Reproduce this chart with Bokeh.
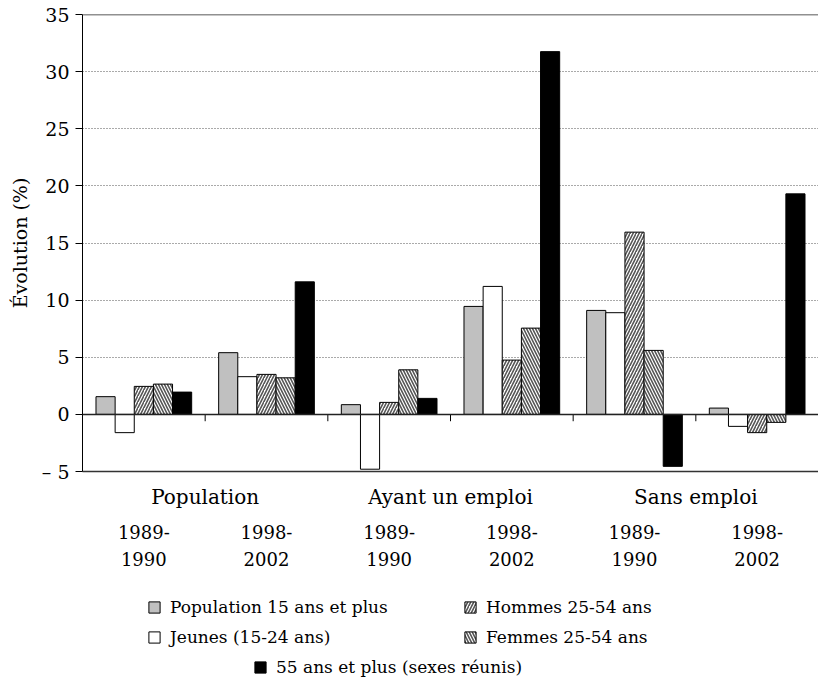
from bokeh.plotting import figure
from bokeh.layouts import column
from bokeh.models import (FactorRange, Range1d, CategoricalAxis, Legend, LegendItem,
                          Span, FixedTicker, ColumnDataSource)
from bokeh.transform import dodge
from bokeh.embed import file_html
from bokeh.resources import INLINE

# ---- data ----
categories = ["Population", "Ayant un emploi", "Sans emploi"]
periods = ["1989-\n1990", "1998-\n2002"]
series_names = ["Population 15 ans et plus", "Jeunes (15-24 ans)", "Hommes 25-54 ans",
                "Femmes 25-54 ans", "55 ans et plus (sexes réunis)"]

pop_15_plus = [1.55, 5.4, 0.85, 9.45, 9.1, 0.55]
jeunes = [-1.6, 3.3, -4.8, 11.2, 8.9, -1.05]
hommes = [2.45, 3.5, 1.05, 4.75, 15.95, -1.6]
femmes = [2.65, 3.2, 3.9, 7.55, 5.6, -0.7]
plus_55 = [1.95, 11.6, 1.4, 31.75, -4.55, 19.3]

y_ticks = [-5, 0, 5, 10, 15, 20, 25, 30, 35]
y_tick_labels = {-5: "\u2013 5"}

FONT = "DejaVu Serif"

factors = [(c, per) for c in categories for per in periods]
src = ColumnDataSource(data=dict(x=factors, pop=pop_15_plus, jeu=jeunes, hom=hommes,
                                 fem=femmes, p55=plus_55))

p = figure(x_range=FactorRange(factors=factors, factor_padding=0, group_padding=0,
                               range_padding=0),
           y_range=Range1d(-5, 35), frame_width=736, frame_height=457,
           min_border_left=82, min_border_right=0, min_border_top=14, min_border_bottom=120,
           output_backend="svg", toolbar_location=None, x_axis_location=None,
           outline_line_color=None, background_fill_color="white")

p.extra_x_ranges = {"cats": FactorRange(factors=categories, range_padding=0)}

# y axis
ya = p.yaxis[0]
ya.ticker = FixedTicker(ticks=y_ticks)
ya.major_label_overrides = y_tick_labels
ya.major_tick_out = 7
ya.major_tick_in = 0
ya.minor_tick_line_color = None
ya.axis_line_color = "black"
ya.major_tick_line_color = "black"
ya.major_label_text_font = FONT
ya.major_label_text_font_size = "19px"
ya.major_label_text_color = "black"
ya.major_label_standoff = 6
ya.axis_label = "Évolution (%)"
ya.axis_label_text_font = FONT
ya.axis_label_text_font_size = "19px"
ya.axis_label_text_font_style = "normal"
ya.axis_label_text_color = "black"
ya.axis_label_standoff = 8

p.xgrid.grid_line_color = None
p.ygrid.ticker = FixedTicker(ticks=[t for t in y_ticks if t not in (-5, 0, 35)])
p.ygrid.grid_line_color = "#555555"
p.ygrid.grid_line_dash = "1 2"
p.ygrid.grid_line_width = 1

# category axis (closest to the frame, draws the bottom line)
cat_axis = CategoricalAxis(x_range_name="cats")
cat_axis.axis_line_color = "#333333"
cat_axis.axis_line_width = 1.5
cat_axis.major_tick_line_color = None
cat_axis.major_tick_out = 0
cat_axis.major_tick_in = 0
cat_axis.major_label_standoff = 13
cat_axis.major_label_text_font = FONT
cat_axis.major_label_text_font_size = "20px"
cat_axis.major_label_text_color = "black"
p.add_layout(cat_axis, "below")

per_axis = CategoricalAxis()
per_axis.axis_line_color = None
per_axis.major_tick_line_color = None
per_axis.major_tick_out = 0
per_axis.major_tick_in = 0
per_axis.major_label_standoff = 10
per_axis.major_label_text_font = FONT
per_axis.major_label_text_font_size = "18px"
per_axis.major_label_text_color = "black"
per_axis.major_label_text_line_height = 1.32
per_axis.group_text_alpha = 0
per_axis.group_text_font_size = "1px"
per_axis.separator_line_color = None
p.add_layout(per_axis, "below")

# bars
bw = 0.156
offsets = [-2 * bw, -bw, 0, bw, 2 * bw]
cols = ["pop", "jeu", "hom", "fem", "p55"]
fills = ["#c0c0c0", "white", "white", "white", "black"]
hatches = [None, None, "/", "\\", None]
HATCH = dict(hatch_color="#555555", hatch_scale=6, hatch_weight=1.6)

for col, off, fc, ht in zip(cols, offsets, fills, hatches):
    kw = dict(x=dodge("x", off, range=p.x_range), top=col, width=bw, source=src,
              fill_color=fc, line_color="black", line_width=1)
    if ht:
        kw.update(hatch_pattern=ht, **HATCH)
    p.vbar(**kw)

# zero line and top line
p.add_layout(Span(location=0, dimension="width", line_color="#222222", line_width=1.5))
p.add_layout(Span(location=35, dimension="width", line_color="#222222", line_width=1.5))

# small ticks at slot boundaries on the zero line
bsrc = ColumnDataSource(data=dict(x=factors[1:]))
p.segment(x0=dodge("x", -0.5, range=p.x_range), x1=dodge("x", -0.5, range=p.x_range),
          y0=0, y1=-0.6, source=bsrc, line_color="black", line_width=1)

# ---- legend (separate strip below the chart; its frame is aligned with the chart's) ----
lg = figure(width=818, height=100, x_range=Range1d(0, 1), y_range=Range1d(0, 1),
            min_border=0, output_backend="svg", toolbar_location=None,
            x_axis_location=None, y_axis_location=None, outline_line_color=None)
lg.xgrid.grid_line_color = None
lg.ygrid.grid_line_color = None

# legend swatch holders: a single zero-size bar placed outside the visible range
swatches = []
for fc, ht in zip(fills, hatches):
    kw = dict(x=[-5], top=[0], width=0, fill_color=fc, line_color="black", line_width=1)
    if ht:
        kw.update(hatch_pattern=ht, **HATCH)
    swatches.append(lg.vbar(**kw))

items = [LegendItem(label=n, renderers=[r]) for n, r in zip(series_names, swatches)]

common = dict(border_line_color=None, background_fill_alpha=0, padding=0, margin=0,
              label_text_font=FONT, label_text_font_size="17px", label_text_color="black",
              glyph_width=14, glyph_height=14, label_standoff=9, label_height=20)

leg1 = Legend(items=items[:4], nrows=2, orientation="vertical", spacing=10,
              label_width=283, location=(65, 44), **common)
leg2 = Legend(items=items[4:], spacing=0, location=(171, 14), **common)
lg.add_layout(leg1, "center")
lg.add_layout(leg2, "center")

open("out.html", "w").write(file_html(column(p, lg), INLINE))
